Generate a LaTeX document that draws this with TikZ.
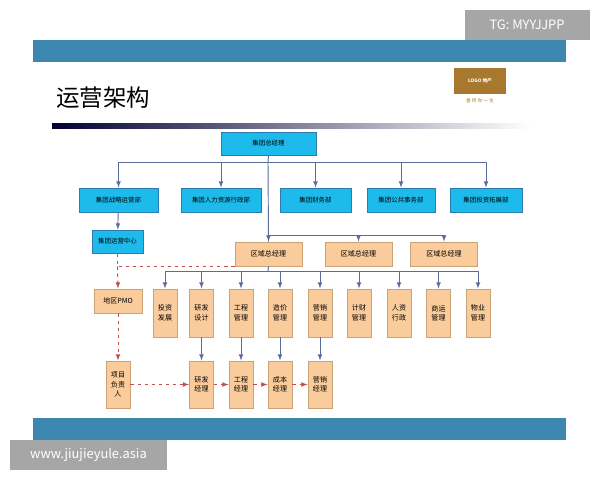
\documentclass[tikz,border=0pt]{standalone}
\usepackage{fontspec}
\setmainfont{Noto Sans CJK SC}
\usepackage{tikz}
\usetikzlibrary{positioning,arrows,calc,shadings}
\definecolor{bandblue}{HTML}{3C87B0}
\definecolor{grpcyan}{HTML}{1CBBEB}
\definecolor{grpedge}{HTML}{2E7BB0}
\definecolor{regfill}{HTML}{FACB9B}
\definecolor{regedge}{HTML}{C9A27A}
\definecolor{linkblue}{HTML}{5A6C9C}
\definecolor{dashred}{HTML}{C0504D}
\definecolor{logobrown}{HTML}{A8782E}
\tikzset{
    grpbox/.style={
        rectangle, fill=grpcyan, draw=grpedge, thick,
        inner sep=0pt, font={\fontsize{5.5pt}{6.5}\selectfont}
    },
    regbox/.style={
        rectangle, fill=regfill, draw=regedge, thick,
        inner sep=0pt, align=center,
        font={\fontsize{6pt}{8}\selectfont}
    },
    link/.style={draw=linkblue, thick, -latex},
    plain/.style={draw=linkblue, thick},
    dlink/.style={draw=dashred, thick, dashed, -latex},
    dplain/.style={draw=dashred, thick, dashed},
}
\begin{document}
\begin{tikzpicture}[x=0.03cm, y=-0.03cm]
\useasboundingbox (0,0) rectangle (600,480);
\fill[white] (0,0) rectangle (600,480);

% frame of the slide
\fill[bandblue] (33,40) rectangle (566,62);
\fill[bandblue] (33,418) rectangle (566,440);
\node[fill=black!35, text=white, minimum width=125*0.03cm, minimum height=30*0.03cm,
  font={\fontsize{11pt}{12}\selectfont}] (tg) at (527,25) {TG: MYYJJPP};
\node[fill=black!35, text=white, minimum width=157*0.03cm, minimum height=30*0.03cm,
  font={\fontsize{11pt}{12}\selectfont}] (www) at (88.5,455) {www.jiujieyule.asia};
\node[anchor=west, font={\fontsize{20pt}{22}\selectfont}] (title) at (52,98) {运营架构};
\shade[left color=black!80!blue, right color=white] (52,123) rectangle (530,128);
\node[fill=logobrown, minimum width=52*0.03cm, minimum height=26*0.03cm] (logo) at (480,81) {};
\node[text=white, font={\fontsize{4pt}{5}\selectfont\bfseries}] at (logo) {LOGO 地产};
\node[below=0pt of logo, text=logobrown, font={\fontsize{4pt}{5}\selectfont}] {善\ 待\ 你\ 一\ 生};

% group level
\node[grpbox, minimum width=95*0.03cm, minimum height=23*0.03cm] (ceo) at (268.5,143.5) {集团总经理};
\foreach \t/\x/\w [count=\i] in {集团战略运营部/118.5/79, 集团人力资源行政部/221/80,
    集团财务部/315.5/71, 集团公共事务部/401/68, 集团投资拓展部/486/72}
  \node[grpbox, minimum width=\w*0.03cm, minimum height=24*0.03cm] (dep-\i) at (\x,200) {\t};
\node[grpbox, minimum width=51*0.03cm, minimum height=23*0.03cm] (opc) at (117.5,241.5) {集团运营中心};

\coordinate (bus1) at (268,162);
\draw[plain] (dep-1 |- bus1) -- (dep-5 |- bus1);
\draw[plain] (ceo.south) -- (bus1);
\foreach \i in {1,...,5}
  \draw[link] (dep-\i |- bus1) -- (dep-\i.north);
\draw[link] (dep-1) -- (opc);

% regional level
\foreach \x [count=\i] in {268.5,358.5,444}
  \node[regbox, minimum width=67*0.03cm, minimum height=24*0.03cm] (reg-\i) at (\x,254) {区域总经理};
\coordinate (bus2) at (268,235);
\draw[plain] (bus1) -- (reg-1.north);
\draw[plain] (bus2) -- (reg-3 |- bus2);
\foreach \i in {1,...,3}
  \draw[link] (reg-\i |- bus2) -- (reg-\i.north);

% functions
\foreach \t/\x [count=\i] in {投资\\发展/165, 研发\\设计/201.5, 工程\\管理/241, 造价\\管理/280,
    营销\\管理/320, 计财\\管理/359, 人资\\行政/399, 商运\\管理/438.5, 物业\\管理/478}
  \node[regbox, minimum width=24*0.03cm, minimum height=48*0.03cm] (fn-\i) at (\x,313) {\t};
\coordinate (bus3) at (268,271);
\draw[plain] (reg-1.south) -- (bus3);
\draw[plain] (fn-1 |- bus3) -- (fn-9 |- bus3);
\foreach \i in {1,...,9}
  \draw[link] (fn-\i |- bus3) -- (fn-\i.north);

\node[regbox, minimum width=48*0.03cm, minimum height=24*0.03cm] (pmo) at (118,301) {地区PMO};
\node[regbox, minimum width=24*0.03cm, minimum height=47*0.03cm] (pm) at (118,384.5) {项目\\负责\\人};
\foreach \t [count=\i from 2] in {研发\\经理, 工程\\经理, 成本\\经理, 营销\\经理}
  \node[regbox, minimum width=24*0.03cm, minimum height=47*0.03cm] (mgr-\i) at (fn-\i |- pm) {\t};
\foreach \i in {2,...,5}
  \draw[link] (fn-\i) -- (mgr-\i);

% dashed lines
\draw[dplain] (opc.south) -- (opc |- reg-1.south) -- (reg-1.south west);
\draw[dlink] (opc |- reg-1.south) -- (pmo.north);
\draw[dlink] (pmo) -- (pm);
\draw[dlink] (pm) -- (mgr-2);
\foreach \i [evaluate=\i as \j using int(\i+1)] in {2,3,4}
  \draw[dlink] (mgr-\i) -- (mgr-\j);
\end{tikzpicture}
\end{document}
